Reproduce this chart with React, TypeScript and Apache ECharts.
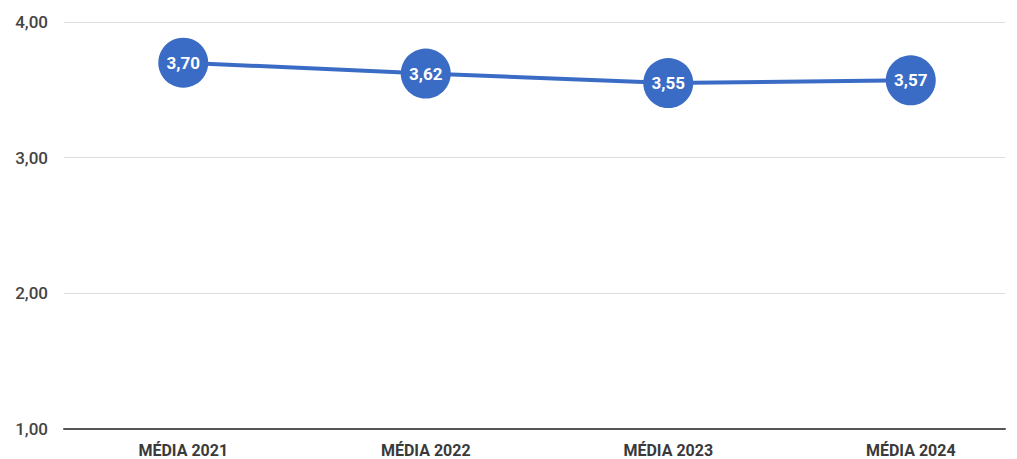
import React, { useEffect, useRef } from "react";
import * as echarts from "echarts";

const categories = ["MÉDIA 2021", "MÉDIA 2022", "MÉDIA 2023", "MÉDIA 2024"];
const values = [3.7, 3.62, 3.55, 3.57];
const yTicks = [1, 2, 3, 4];

const fmt = (v: number) => v.toFixed(2).replace(".", ",");

export default function App() {
  const ref = useRef<HTMLDivElement>(null);
  useEffect(() => {
    if (!ref.current) return;
    const chart = echarts.init(ref.current, undefined, { renderer: "svg" });
    chart.setOption({
      animation: false,
      backgroundColor: "#ffffff",
      grid: [
        { left: 64, right: 12, top: 22, bottom: 30, outerBoundsMode: "none" },
        { left: 62, width: 970, top: 22, bottom: 30, outerBoundsMode: "none" },
      ],
      xAxis: [
        {
          gridIndex: 0,
          type: "category",
          data: categories,
          axisLine: { show: true, lineStyle: { color: "#555", width: 2 } },
          axisTick: { show: false },
          axisLabel: { show: false },
        },
        {
          gridIndex: 1,
          type: "category",
          data: categories,
          axisLine: { show: false },
          axisTick: { show: false },
          axisLabel: {
            margin: 13,
            color: "#3a3a3a",
            fontSize: 16,
            fontWeight: "bold",
            fontFamily: "Roboto",
          },
        },
      ],
      yAxis: [
        {
          gridIndex: 0,
          type: "value",
          min: yTicks[0],
          max: yTicks[yTicks.length - 1],
          interval: 1,
          axisLine: { show: false },
          axisTick: { show: false },
          splitLine: { lineStyle: { color: "#dedede", width: 1 } },
          axisLabel: {
            formatter: (v: number) => fmt(v),
            color: "#444",
            fontSize: 17,
            fontWeight: 500,
            fontFamily: "Roboto",
            margin: 16,
          },
        },
        {
          gridIndex: 1,
          type: "value",
          min: yTicks[0],
          max: yTicks[yTicks.length - 1],
          interval: 1,
          show: false,
        },
      ],
      series: [
        {
          type: "line",
          xAxisIndex: 1,
          yAxisIndex: 1,
          data: values,
          symbol: "circle",
          symbolSize: 50,
          lineStyle: { color: "#3b6cc5", width: 4 },
          itemStyle: { color: "#3b6cc5" },
          label: {
            show: true,
            position: "inside",
            formatter: (p: any) => fmt(p.value),
            color: "#fff",
            fontSize: 17,
            fontWeight: "bold",
            fontFamily: "Roboto",
          },
        },
      ],
    });
    return () => chart.dispose();
  }, []);
  return (
    <div
      ref={ref}
      style={{ position: "absolute", left: 0, top: 0, width: 1017, height: 459 }}
    />
  );
}
